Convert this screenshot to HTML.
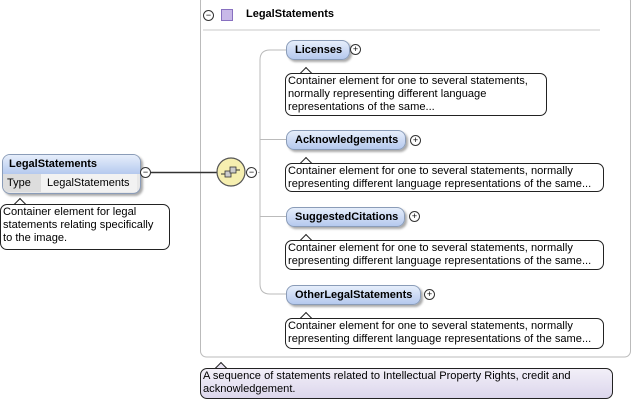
<!DOCTYPE html>
<html><head><meta charset="utf-8"><style>
body{margin:0;width:633px;height:403px;background:#fff;position:relative;overflow:hidden;font-family:"Liberation Sans",sans-serif;font-size:11px;color:#000}
.a{position:absolute}
.el{position:absolute;height:18px;border:1px solid #8a9cb8;border-radius:8px;background:linear-gradient(#e6eefb,#b5c9ee);box-shadow:2px 2px 2px #aaa;font-weight:bold;font-size:11px;line-height:18px;padding:0 0 0 8px;box-sizing:content-box}
.note{position:absolute;border:1px solid #222;border-radius:7px;background:#fff;line-height:13px;padding:1px 2px;box-sizing:border-box;font-size:11.1px;white-space:nowrap}
.tail{position:absolute;width:9px;height:9px;background:#fff;border-left:1px solid #222;border-top:1px solid #222;transform:rotate(45deg)}
.pm{position:absolute;width:9px;height:9px;border:1px solid #333;border-radius:50%;background:#fff;font-size:9px;line-height:9px;text-align:center}
</style></head><body>
<svg class="a" style="left:0;top:0" width="633" height="403">
<rect x="200.5" y="-5" width="430" height="362" rx="6" fill="none" stroke="#bbb"/>
<line x1="203" y1="30" x2="600" y2="30" stroke="#e4e4e4" stroke-width="2"/>
<line x1="150" y1="172.5" x2="217" y2="172.5" stroke="#333" stroke-width="1.5"/>
<path d="M286 50 H270 Q260 50 260 60 V284 Q260 294 270 294 H286" fill="none" stroke="#bbb"/>
<line x1="260" y1="139.5" x2="286" y2="139.5" stroke="#bbb"/>
<line x1="260" y1="216.5" x2="286" y2="216.5" stroke="#bbb"/>
<line x1="258" y1="172.5" x2="260" y2="172.5" stroke="#bbb"/>
<circle cx="231" cy="172" r="14" fill="#f6efb0" stroke="#555" stroke-width="1.2"/>
<rect x="225" y="171" width="6" height="6" fill="#ccc" stroke="#333" stroke-width="0.8"/>
<rect x="230" y="167" width="6" height="6" fill="#ccc" stroke="#333" stroke-width="0.8"/>
<line x1="221" y1="174" x2="225" y2="174" stroke="#333"/><line x1="236" y1="170" x2="240" y2="170" stroke="#333"/>
<rect x="221.5" y="9.5" width="11" height="11" fill="#c8b8e8" stroke="#8870c0"/>
</svg>
<div class="pm" style="left:203px;top:10px">−</div>
<div class="a" style="left:246px;top:8px;font-weight:bold;font-size:11px">LegalStatements</div>

<div class="a" style="left:2px;top:154px;width:137px;height:38px;border:1px solid #8a9cb8;border-radius:8px;box-shadow:2px 2px 2px #aaa;overflow:hidden;background:#e8e8e8">
<div style="height:19px;background:linear-gradient(#e6eefb,#b5c9ee);font-weight:bold;font-size:11px;line-height:18px;padding-left:6px">LegalStatements</div>
<div style="height:19px;line-height:18px;font-size:11px"><span style="display:inline-block;width:34px;padding-left:4px;background:#ddd">Type</span><span style="padding-left:6px;background:#f2f2f2;display:inline-block;width:90px">LegalStatements</span></div>
</div>
<div class="pm" style="left:140px;top:167px">−</div>
<div class="pm" style="left:246px;top:167px">−</div>
<div class="tail" style="left:15px;top:200px"></div>
<div class="note" style="left:0;top:204px;width:170px;height:46px">Container element for legal<br>statements relating specifically<br>to the image.</div>

<div class="el" style="left:286px;top:40px;width:54px">Licenses</div><div class="pm" style="left:350px;top:44px">+</div>
<div class="tail" style="left:301px;top:69px"></div>
<div class="note" style="left:285px;top:73px;width:262px;height:43px">Container element for one to several statements,<br>normally representing different language<br>representations of the same...</div>

<div class="el" style="left:286px;top:130px;width:110px">Acknowledgements</div><div class="pm" style="left:410px;top:135px">+</div>
<div class="tail" style="left:301px;top:159px"></div>
<div class="note" style="left:285px;top:163px;width:319px;height:29px">Container element for one to several statements, normally<br>representing different language representations of the same...</div>

<div class="el" style="left:286px;top:207px;width:109px">SuggestedCitations</div><div class="pm" style="left:409px;top:211px">+</div>
<div class="tail" style="left:301px;top:236px"></div>
<div class="note" style="left:285px;top:240px;width:319px;height:30px">Container element for one to several statements, normally<br>representing different language representations of the same...</div>

<div class="el" style="left:286px;top:285px;width:125px">OtherLegalStatements</div><div class="pm" style="left:424px;top:289px">+</div>
<div class="tail" style="left:301px;top:314px"></div>
<div class="note" style="left:285px;top:318px;width:319px;height:31px">Container element for one to several statements, normally<br>representing different language representations of the same...</div>

<div class="tail" style="left:216px;top:364px;background:#ebe6f4"></div>
<div class="note" style="left:200px;top:368px;width:413px;height:31px;background:linear-gradient(#f2eff8,#dcd6ec)">A sequence of statements related to Intellectual Property Rights, credit and<br>acknowledgement.</div>
</body></html>
